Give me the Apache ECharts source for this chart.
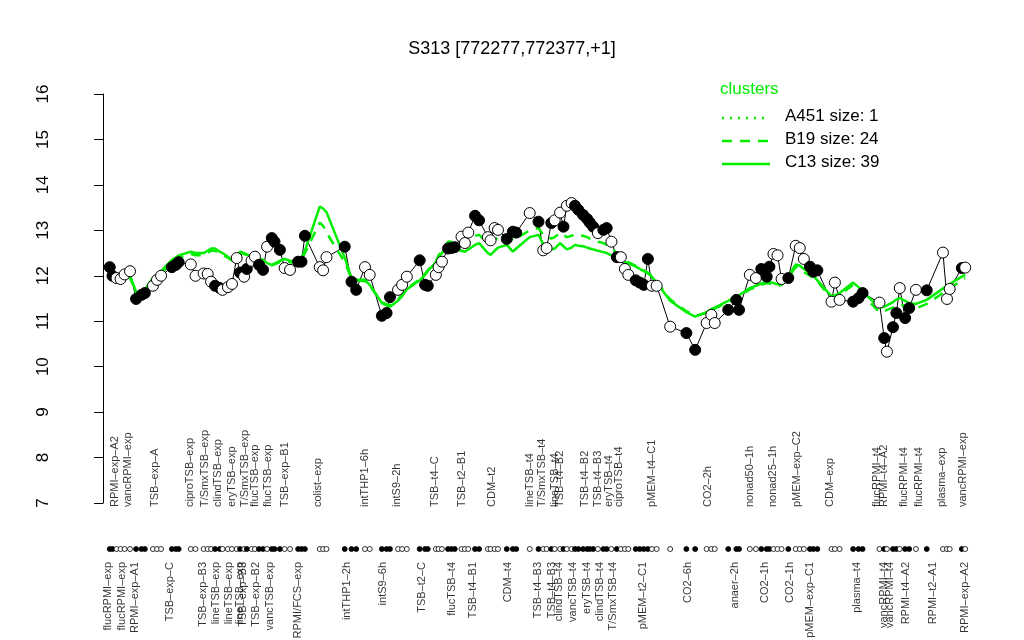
<!DOCTYPE html>
<html><head><meta charset="utf-8">
<script src="https://cdn.jsdelivr.net/npm/echarts@6/dist/echarts.min.js"></script>
<style>html,body{margin:0;padding:0;background:#fff}#c{width:1024px;height:640px}</style>
</head><body><div id="c"></div>
<script>
const title = 'S313 [772277,772377,+1]';
const yTicks = [7,8,9,10,11,12,13,14,15,16];
// sample positions along the x axis (condition order, grouped with gaps)
const positions = [1.0,1.4,2.0,2.6,3.2,4.0,4.9,5.7,6.2,7.4, 8.0,8.6,10.2,10.8,11.2,13.0,13.7,14.9,15.5,16.0, 16.6,17.3,17.7,18.5,19.1,19.8,20.3,20.9,21.3,22.0, 22.5,23.1,23.7,24.3,25.0,25.4,26.2,26.9,27.7,28.9, 29.4,29.9,32.1,32.6,33.1,35.8,36.8,37.5,38.8,39.5, 41.3,42.0,42.5,43.7,44.3,45.0,46.9,47.7,48.1,49.3, 49.7,50.2,51.1,51.6,52.1,53.1,53.6,54.1,55.1,55.7, 57.0,57.4,58.0,58.5,59.8,60.7,61.2,63.2,64.5,65.2, 65.7,66.4,66.9,67.7,68.2,68.7,69.4,69.9,70.4,71.1, 71.7,72.1,72.6,73.3,74.1,74.6,75.3,76.1,76.7,77.3, 77.8,78.9,79.5,80.1,80.7,81.3,82.0,84.0,86.4,87.7, 89.4,90.1,90.6,92.6,93.8,94.2,95.8,96.7,97.5,98.3, 98.7,99.3,99.9,100.5,101.5,102.6,103.2,103.8,104.7,105.2, 105.8,107.9,108.4,109.1,111.1,111.9,112.5,115.0,115.7,116.1, 117.0,117.5,118.0,118.8,119.4,120.4,122.0,124.4,125.0,125.4, 127.2,127.7];
const values = [12.19,12.00,11.95,11.93,12.03,12.10,11.49,11.58,11.62,11.78, 11.91,12.00,12.19,12.24,12.30,12.25,12.00,12.05,12.04,11.87, 11.78,11.73,11.69,11.75,11.82,12.39,12.07,11.98,12.15,12.33, 12.42,12.24,12.13,12.64,12.83,12.75,12.57,12.17,12.13,12.31, 12.31,12.88,12.19,12.12,12.41,12.64,11.87,11.69,12.19,12.02, 11.12,11.18,11.53,11.69,11.80,11.98,12.34,11.80,11.78,12.02, 12.19,12.31,12.60,12.61,12.63,12.86,12.72,12.95,13.32,13.22, 12.85,12.78,13.05,13.01,12.81,12.97,12.95,13.38,13.19,12.56, 12.61,13.16,13.22,13.39,13.08,13.54,13.60,13.54,13.45,13.34, 13.25,13.17,13.08,12.94,13.01,13.05,12.75,12.41,12.41,12.15, 12.02,11.90,11.85,11.80,12.37,11.78,11.78,10.88,10.74,10.37, 10.96,11.14,10.96,11.25,11.47,11.25,12.02,11.95,12.15,11.98, 12.20,12.48,12.45,11.93,11.95,12.66,12.61,12.37,12.20,12.09, 12.12,11.43,11.85,11.47,11.43,11.51,11.62,11.41,10.63,10.33, 10.87,11.18,11.73,11.07,11.29,11.69,11.68,12.51,11.49,11.71, 12.17,12.18];
const filled = [1,1,0,0,0,0,1,1,1,0, 0,0,1,1,1,0,0,0,0,0, 1,1,0,0,0,0,1,0,1,0, 0,1,1,0,1,1,1,0,0,1, 1,1,0,0,0,1,1,1,0,0, 1,1,1,0,0,0,1,1,1,0, 0,0,1,1,1,0,0,0,1,1, 0,0,0,0,1,1,1,0,1,0, 0,1,0,0,1,0,0,1,1,1, 1,1,1,0,1,1,0,1,0,0, 0,1,1,1,1,0,0,0,1,1, 0,0,0,1,1,1,0,0,1,1, 1,0,0,0,1,0,0,0,1,1, 1,0,0,0,1,1,1,0,1,0, 1,1,0,1,1,0,1,0,0,0, 1,0];
const c13 = [12.1,12.08,12.05,12.03,12.05,12.0,11.65,11.62,11.7,11.95, 12.02,12.1,12.35,12.4,12.45,12.53,12.5,12.5,12.55,12.6, 12.6,12.53,12.5,12.42,12.35,12.45,12.53,12.5,12.47,12.42, 12.4,12.38,12.35,12.28,12.24,12.27,12.33,12.37,12.33,12.3, 12.4,12.55,13.52,13.48,13.4,12.4,11.95,11.92,11.91,11.8, 11.4,11.35,11.32,11.45,11.55,11.7,11.9,12.02,12.1,12.3, 12.4,12.5,12.68,12.65,12.6,12.55,12.53,12.58,12.68,12.72, 12.5,12.46,12.55,12.62,12.68,12.53,12.6,12.85,12.9,12.7, 12.62,12.58,12.6,12.72,12.65,12.58,12.62,12.68,12.66,12.65, 12.62,12.6,12.58,12.55,12.52,12.5,12.45,12.4,12.35,12.3, 12.28,12.2,12.15,12.1,12.05,11.98,11.85,11.45,11.2,11.1, 11.2,11.27,11.3,11.45,11.55,11.57,11.73,11.78,11.83,11.87, 11.86,11.84,11.81,11.82,11.98,12.25,12.22,12.15,12.07,12.0, 11.9,11.55,11.57,11.62,11.85,11.75,11.65,11.3,11.32,11.35, 11.42,11.48,11.51,11.45,11.4,11.38,11.47,11.72,11.78,11.82, 11.98,12.02];
const b19 = [12.07,12.05,12.02,12.0,12.0,11.95,11.62,11.6,11.68,11.9, 11.98,12.05,12.3,12.35,12.4,12.48,12.45,12.45,12.5,12.55, 12.55,12.5,12.45,12.4,12.33,12.42,12.5,12.48,12.45,12.4, 12.38,12.35,12.33,12.27,12.23,12.25,12.3,12.33,12.3,12.28, 12.35,12.5,13.17,13.1,12.95,12.3,11.95,11.9,11.88,11.78, 11.42,11.37,11.35,11.48,11.58,11.72,11.92,12.05,12.12,12.32, 12.45,12.55,12.75,12.75,12.72,12.7,12.7,12.78,12.88,12.9, 12.72,12.7,12.78,12.85,12.9,12.78,12.82,13.0,13.05,12.9, 12.85,12.82,12.85,12.95,12.9,12.85,12.88,12.92,12.9,12.88, 12.85,12.82,12.8,12.75,12.72,12.68,12.6,12.5,12.42,12.35, 12.3,12.22,12.17,12.12,12.07,12.0,11.88,11.48,11.22,11.12, 11.18,11.25,11.28,11.42,11.52,11.55,11.7,11.75,11.8,11.84, 11.83,11.8,11.78,11.8,11.95,12.2,12.15,12.08,12.0,11.95, 11.88,11.5,11.52,11.58,11.8,11.7,11.58,11.2,11.22,11.25, 11.3,11.35,11.38,11.33,11.3,11.28,11.38,11.62,11.68,11.72, 11.9,11.95];
const topLabelNames = ['RPMI\u2013exp\u2013A2','vancRPMI\u2013exp','TSB\u2013exp\u2013A','ciproTSB\u2013exp','T/SmxTSB\u2013exp','clindTSB\u2013exp','eryTSB\u2013exp','T/SmxTSB\u2013exp','flucTSB\u2013exp','flucTSB\u2013exp','TSB\u2013exp\u2013B1','colist\u2013exp','intTHP1\u20136h','intS9\u20132h','TSB\u2013t4\u2013C','TSB\u2013t2\u2013B1','CDM\u2013t2','lineTSB\u2013t4','T/SmxTSB\u2013t4','lineTSB\u2013t4','TSB\u2013t4\u2013B2','TSB\u2013t4\u2013B2','TSB\u2013t4\u2013B3','eryTSB\u2013t4','ciproTSB\u2013t4','pMEM\u2013t4\u2013C1','CO2\u20132h','nonad50\u20131h','nonad25\u20131h','pMEM\u2013exp\u2013C2','CDM\u2013exp','flucRPMI\u2013t4','RPMI\u2013t4\u2013A2','flucRPMI\u2013t4','flucRPMI\u2013t4','plasma\u2013exp','vancRPMI\u2013exp'];
const topLabelPos = [1.7,3.7,7.7,12.9,15.1,17.0,19.1,21.0,22.5,24.4,26.9,31.8,38.8,43.5,49.1,53.1,57.6,63.2,65.0,66.9,67.7,71.4,73.3,74.9,76.4,81.3,89.6,95.8,99.3,102.8,107.7,114.6,115.7,118.6,120.9,124.3,127.4];
const bottomLabelNames = ['flucRPMI\u2013exp','flucRPMI\u2013exp','RPMI\u2013exp\u2013A1','TSB\u2013exp\u2013C','TSB\u2013exp\u2013B3','lineTSB\u2013exp','lineTSB\u2013exp','lineTSB\u2013exp','TSB\u2013exp\u2013B3','TSB\u2013exp\u2013B2','vancTSB\u2013exp','RPMI/FCS\u2013exp','intTHP1\u20132h','intS9\u20136h','TSB\u2013t2\u2013C','flucTSB\u2013t4','TSB\u2013t4\u2013B1','CDM\u2013t4','TSB\u2013t4\u2013B3','TSB\u2013t4\u2013B3','clindTSB\u2013t4','vancTSB\u2013t4','eryTSB\u2013t4','clindTSB\u2013t4','T/SmxTSB\u2013t4','pMEM\u2013t2\u2013C1','CO2\u20136h','anaer\u20132h','CO2\u20131h','CO2\u20131h','pMEM\u2013exp\u2013C1','plasma\u2013t4','vancRPMI\u2013t4','vancRPMI\u2013t4','RPMI\u2013t4\u2013A2','RPMI\u2013t2\u2013A1','RPMI\u2013exp\u2013A2'];
const bottomLabelPos = [0.7,2.8,4.7,9.9,14.8,16.7,18.6,20.3,20.7,22.6,24.7,28.9,36.1,41.4,47.2,51.7,54.8,60.0,64.4,66.5,67.5,69.6,71.7,73.6,75.6,79.9,86.7,93.6,98.0,101.7,104.7,111.7,115.7,116.6,118.9,122.9,127.6];
const legendTitle = 'clusters';
const legendNames = ['A451 size: 1','B19 size: 24','C13 size: 39'];

const GREEN = '#00ee00';
const FONT = 'Liberation Sans, Arial, sans-serif';
const X_MIN = -4, X_MAX = 133;
const pair = (arr) => arr.map((v, i) => [positions[i], v]);
const chart = echarts.init(document.getElementById('c'), null, {renderer: 'canvas'});
const pts = values.map((v, i) => ({value: [positions[i], v], itemStyle: {color: filled[i] ? '#000' : '#fff'}}));
const rug = values.map((v, i) => ({value: [positions[i], 0.236], itemStyle: {color: filled[i] ? '#000' : '#fff'}}));
const topLab = topLabelNames.map((s, i) => ({value: [topLabelPos[i], 1], name: s}));
const botLab = bottomLabelNames.map((s, i) => ({value: [bottomLabelPos[i], 0], name: s}));
const legendY = [118, 141, 164];
const legendDash = [[2, 6], [10, 8], null];
const labelStyle = {show: true, rotate: 90, position: 'inside', formatter: p => p.name, fontFamily: FONT, fontSize: 11, color: '#000', verticalAlign: 'middle'};
chart.setOption({
  animation: false,
  title: {text: title, left: 'center', top: 35, textStyle: {fontFamily: FONT, fontSize: 18, fontWeight: 'normal', color: '#000'}},
  grid: [
    {left: 76, right: 23, top: 94, bottom: 137},
    {left: 76, right: 23, top: 507, height: 55}
  ],
  xAxis: [
    {type: 'value', gridIndex: 0, min: X_MIN, max: X_MAX, show: false},
    {type: 'value', gridIndex: 1, min: X_MIN, max: X_MAX, show: false}
  ],
  yAxis: [
    {type: 'value', gridIndex: 0, min: 7, max: 16, interval: 1,
      axisLine: {show: true, lineStyle: {color: '#000', width: 1}},
      axisTick: {show: true, length: 9, lineStyle: {color: '#000'}},
      splitLine: {show: false},
      axisLabel: {rotate: 90, margin: 24, fontFamily: FONT, fontSize: 17, color: '#000',
        formatter: v => yTicks.includes(v) ? String(v) : ''}},
    {type: 'value', gridIndex: 1, min: 0, max: 1, show: false}
  ],
  series: [
    {type: 'line', xAxisIndex: 0, yAxisIndex: 0, data: pair(values), symbol: 'none', lineStyle: {color: '#000', width: 1}, z: 2},
    {type: 'line', name: legendNames[1], xAxisIndex: 0, yAxisIndex: 0, data: pair(b19), symbol: 'none', lineStyle: {color: GREEN, width: 2.5, type: [10, 8]}, z: 3},
    {type: 'line', name: legendNames[2], xAxisIndex: 0, yAxisIndex: 0, data: pair(c13), symbol: 'none', lineStyle: {color: GREEN, width: 2.5}, z: 3},
    {type: 'scatter', xAxisIndex: 0, yAxisIndex: 0, data: pts, symbol: 'circle', symbolSize: 11,
      itemStyle: {borderColor: '#000', borderWidth: 1, opacity: 1}, z: 4},
    {type: 'scatter', xAxisIndex: 1, yAxisIndex: 1, data: rug, symbol: 'circle', symbolSize: 5,
      itemStyle: {borderColor: '#000', borderWidth: 0.8, opacity: 1}, z: 4},
    {type: 'scatter', xAxisIndex: 1, yAxisIndex: 1, data: topLab, symbol: 'circle', symbolSize: 0.01,
      itemStyle: {color: 'rgba(0,0,0,0)'}, label: Object.assign({}, labelStyle, {align: 'left'}), z: 5},
    {type: 'scatter', xAxisIndex: 1, yAxisIndex: 1, data: botLab, symbol: 'circle', symbolSize: 0.01,
      itemStyle: {color: 'rgba(0,0,0,0)'}, label: Object.assign({}, labelStyle, {align: 'right'}), z: 5}
  ],
  graphic: [
    {type: 'text', left: 720, top: 81, style: {text: legendTitle, fontFamily: FONT, fontSize: 17, fill: GREEN}},
    ...legendNames.map((s, k) => ({type: 'text', left: 785, top: legendY[k] - 10, style: {text: s, fontFamily: FONT, fontSize: 17, fill: '#000'}})),
    ...legendNames.map((s, k) => ({type: 'line', shape: {x1: 722, y1: legendY[k], x2: 770, y2: legendY[k]},
      style: {stroke: GREEN, lineWidth: 2.5, lineDash: legendDash[k]}}))
  ]
});
</script></body></html>
